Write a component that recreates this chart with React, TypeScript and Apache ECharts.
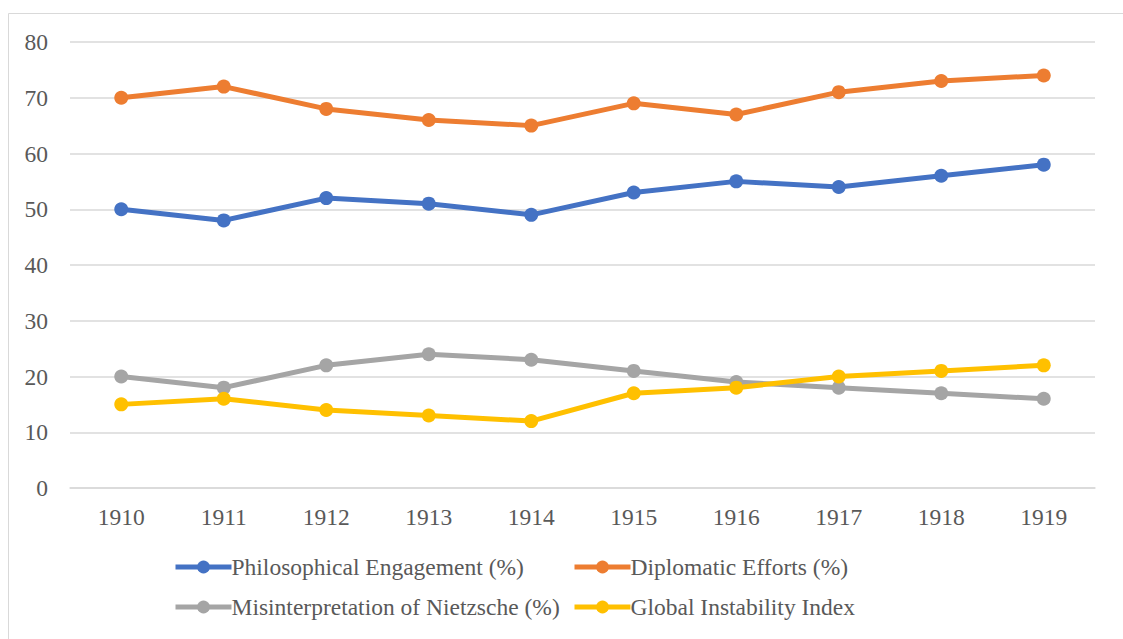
import React, { useEffect, useRef } from "react";
import * as echarts from "echarts";

const years = ["1910", "1911", "1912", "1913", "1914", "1915", "1916", "1917", "1918", "1919"];
const philosophical = [50, 48, 52, 51, 49, 53, 55, 54, 56, 58];
const diplomatic = [70, 72, 68, 66, 65, 69, 67, 71, 73, 74];
const misinterpretation = [20, 18, 22, 24, 23, 21, 19, 18, 17, 16];
const instability = [15, 16, 14, 13, 12, 17, 18, 20, 21, 22];

const names = [
  "Philosophical Engagement (%)",
  "Diplomatic Efforts (%)",
  "Misinterpretation of Nietzsche (%)",
  "Global Instability Index",
];
const colors = ["#4472C4", "#ED7D31", "#A5A5A5", "#FFC000"];
const seriesData = [philosophical, diplomatic, misinterpretation, instability];

const FONT = "Liberation Serif";
const FS = 23.5;

export default function App() {
  const ref = useRef<HTMLDivElement>(null);
  useEffect(() => {
    if (!ref.current) return;
    const chart = echarts.init(ref.current, null, { renderer: "svg" });
    const legendPos = [
      { left: 173, top: 555 },
      { left: 572, top: 555 },
      { left: 173, top: 595 },
      { left: 572, top: 595 },
    ];
    chart.setOption({
      animation: false,
      color: colors,
      textStyle: { fontFamily: FONT },
      graphic: [
        {
          type: "rect",
          shape: { x: 8.5, y: 13.5, width: 1200, height: 700 },
          style: { fill: "none", stroke: "#D9D9D9", lineWidth: 1 },
          silent: true,
        },
      ],
      grid: { left: 70, right: 28, top: 42, bottom: 151, containLabel: false },
      legend: names.map((n, i) => ({
        data: [n],
        left: legendPos[i].left,
        top: legendPos[i].top,
        itemWidth: 56,
        itemHeight: 16,
        itemGap: 0,
        padding: 0,
        lineStyle: { width: 5 },
        textStyle: { fontFamily: FONT, fontSize: FS, color: "#595959", padding: [0, 0, 0, -5] },
      })),
      xAxis: {
        type: "category",
        data: years,
        boundaryGap: true,
        axisLine: { show: true, lineStyle: { color: "#D9D9D9", width: 1.5 } },
        axisTick: { show: false },
        axisLabel: { fontFamily: FONT, fontSize: FS, color: "#595959", margin: 17 },
      },
      yAxis: {
        type: "value",
        min: 0,
        max: 80,
        interval: 10,
        axisLine: { show: false },
        axisTick: { show: false },
        splitLine: { lineStyle: { color: "#D9D9D9", width: 1.5 } },
        axisLabel: { fontFamily: FONT, fontSize: FS, color: "#595959", margin: 22 },
      },
      series: names.map((n, i) => ({
        name: n,
        type: "line",
        data: seriesData[i],
        symbol: "circle",
        symbolSize: 14,
        lineStyle: { width: 5, color: colors[i] },
        itemStyle: { color: colors[i] },
        z: 2,
      })),
    });
    return () => chart.dispose();
  }, []);
  return <div ref={ref} style={{ width: 1123, height: 639, position: "absolute", left: 0, top: 0 }} />;
}
